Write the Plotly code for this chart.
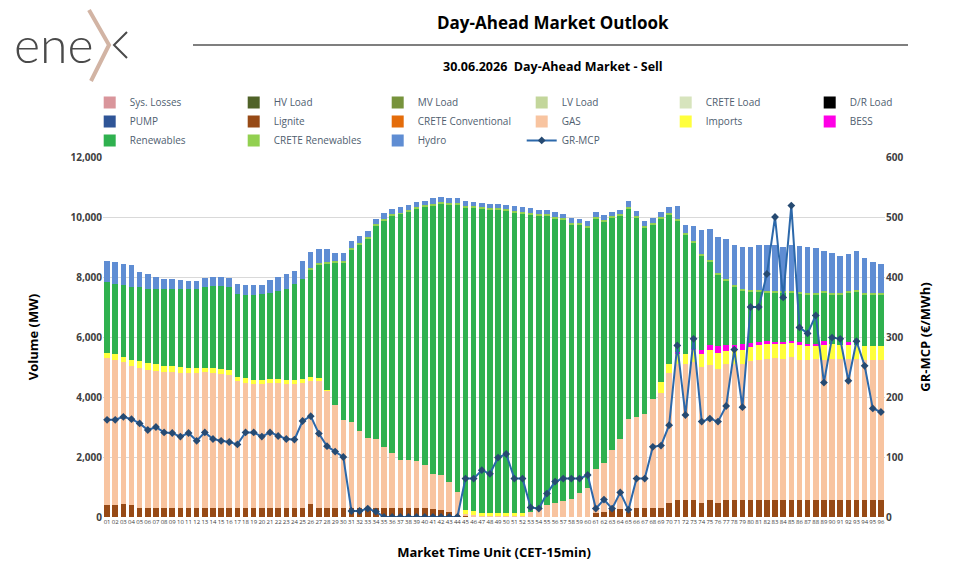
import plotly.graph_objects as go

# ---------------- data ----------------
mtu = [f"{i:02d}" for i in range(1, 97)]

lignite = [400, 400, 430, 400] + [290] * 21 + [420] + [290] * 14 + [270, 230, 170, 60, 66, 33] + [0] * 14 + \
          [144, 177, 288, 266, 177, 288, 288, 288, 288, 454, 565, 565, 565, 476, 565, 476] + [565] * 20

gas = [4910, 4840, 4740, 4650, 4690, 4600, 4570, 4540, 4530, 4510, 4510, 4510, 4540, 4510, 4490, 4460,
       4240, 4190, 4150, 4150, 4180, 4180, 4150, 4150, 4180, 4130, 4240, 3930, 3430, 2960, 2880, 2580,
       2360, 2310, 2050, 1850, 1610, 1610, 1570, 1460, 1170, 1160, 1000, 760, 40, 40, 40, 40,
       40, 40, 40, 40, 177, 266, 399, 454, 543, 587, 787, 953, 1440, 1610, 1940, 2350,
       3100, 3050, 3140, 3660, 3860, 4340, 4520, 4540, 4590, 4520, 4490, 4470, 4520, 4540, 4540, 4630,
       4680, 4710, 4740, 4710, 4770, 4680, 4680, 4710, 4680, 4690, 4690, 4690, 4690, 4680, 4680, 4680]

imports = [170, 180, 180, 170, 220, 240, 240, 220, 200, 190, 180, 160, 140, 160, 160, 150,
           130, 140, 140, 130, 120, 130, 130, 130, 120, 120, 90, 30, 0, 0, 0, 0,
           0, 0, 0, 0, 0, 0, 0, 0, 0, 0, 0, 0, 133, 134, 110, 110,
           110, 110, 110, 110, 0, 0, 0, 0, 0, 0, 0, 0, 0, 0, 0, 0,
           0, 0, 0, 0, 350, 310, 380, 330, 420, 440, 500, 520, 465, 465, 476, 465,
           476, 521, 488, 499, 487, 476, 476, 454, 476, 499, 487, 465, 487, 454, 454, 454]

bess = [0] * 70 + [40, 0, 30, 133, 166, 222, 200, 178, 189, 144, 111, 66, 44, 55, 44, 100,
                   56, 45, 144, 0, 0, 100, 0, 0, 0, 0]

renewables = [2350, 2350, 2380, 2440, 2460, 2470, 2490, 2550, 2580, 2600, 2630, 2650, 2700, 2730, 2750, 2770,
              2790, 2790, 2830, 2860, 2880, 2950, 3040, 3190, 3340, 3570, 3800, 4210, 4770, 5230, 5750, 6210,
              6620, 7110, 7540, 7910, 8200, 8280, 8430, 8590, 8950, 9060, 9240, 9610, 10090, 10100, 10120, 10100,
              10100, 10070, 10010, 9980, 9910, 9780, 9650, 9510, 9360, 9160, 8950, 8700, 8380, 8070, 7760, 7430,
              7010, 6630, 6230, 5790, 5440, 4970, 4370, 3990, 3540, 3140, 2780, 2400, 2130, 1930, 1780, 1710,
              1670, 1630, 1660, 1670, 1630, 1620, 1650, 1650, 1610, 1670, 1680, 1660, 1760, 1720, 1720, 1720]

crete_renewables = [0] * 25 + [50] * 71

hydro = [720, 730, 720, 740, 500, 490, 410, 350, 340, 320, 260, 260, 310, 310, 310, 310,
         310, 320, 320, 300, 430, 440, 480, 440, 620, 540, 450, 440, 260, 270, 240, 240,
         210, 180, 190, 180, 170, 170, 170, 140, 190, 180, 190, 170, 140, 144, 133, 144,
         133, 144, 155, 144, 155, 144, 144, 144, 144, 155, 155, 166, 167, 144, 145, 133,
         200, 167, 166, 166, 188, 222, 440, 260, 520, 810, 1050, 1210, 1340, 1340, 1410, 1450,
         1500, 1530, 1510, 1460, 1510, 1540, 1520, 1500, 1350, 1330, 1240, 1240, 1300, 1150, 1020, 960]

gr_mcp = [162, 162, 167, 163, 156, 145, 150, 141, 140, 134, 140, 127, 141, 130, 127, 125,
          121, 141, 141, 134, 141, 135, 130, 129, 160, 168, 139, 118, 109, 100, 10, 10,
          14, 9, 0, 0, 0, 0, 0, 0, 0, 0, 0, 0, 64, 64, 78, 72,
          99, 105, 64, 64, 16, 14, 39, 59, 64, 64, 64, 70, 14, 29, 14, 41,
          12, 64, 64, 117, 119, 153, 286, 170, 297, 159, 164, 159, 185, 279, 183, 350,
          350, 405, 500, 366, 519, 316, 306, 336, 224, 299, 297, 227, 293, 252, 181, 175]

zeros = [0] * 96

left_ticks = [0, 2000, 4000, 6000, 8000, 10000, 12000]
right_ticks = [0, 100, 200, 300, 400, 500, 600]

# (name, values, colour) in legend / stacking order
bar_series = [
    ("Sys. Losses", zeros, "#D9959B"),
    ("HV Load", zeros, "#4F6228"),
    ("MV Load", zeros, "#77933C"),
    ("LV Load", zeros, "#C3D69B"),
    ("CRETE Load", zeros, "#D7E4BD"),
    ("D/R Load", zeros, "#000000"),
    ("PUMP", zeros, "#2F5597"),
    ("Lignite", lignite, "#974A16"),
    ("CRETE Conventional", zeros, "#E46C0A"),
    ("GAS", gas, "#F8C4A0"),
    ("Imports", imports, "#FFFF3C"),
    ("BESS", bess, "#FF00E6"),
    ("Renewables", renewables, "#2FB14F"),
    ("CRETE Renewables", crete_renewables, "#92D050"),
    ("Hydro", hydro, "#5F8DD3"),
]

FONT = "Open Sans"

fig = go.Figure()
for name, vals, col in bar_series:
    fig.add_trace(go.Bar(x=mtu, y=vals, name=name, marker=dict(color=col, line=dict(width=0)),
                         yaxis="y"))

fig.add_trace(go.Scatter(x=mtu, y=gr_mcp, name="GR-MCP", yaxis="y2", mode="lines+markers",
                         line=dict(color="#2C68AA", width=2),
                         marker=dict(symbol="diamond", size=6, color="#264A72")))

fig.update_layout(
    width=958, height=581,
    margin=dict(l=103, r=73, t=157, b=64, autoexpand=False),
    paper_bgcolor="white", plot_bgcolor="white",
    barmode="stack", bargap=0.32,
    font=dict(family=FONT, color="#404040"),
    showlegend=True,
    legend=dict(orientation="h", x=-0.017, xanchor="left", y=1.192, yanchor="top",
                traceorder="normal", entrywidth=99, entrywidthmode="pixels",
                font=dict(family=FONT, size=10, color="#4F6070"),
                itemwidth=30, tracegroupgap=0, bgcolor="rgba(0,0,0,0)"),
    xaxis=dict(type="category", range=[-0.5, 95.5], tickangle=0,
               tickfont=dict(size=6, color="#404040"),
               showgrid=False, zeroline=False, showline=False, ticks="",
               title=dict(text="<b>Market Time Unit (CET-15min)</b>", standoff=22,
                          font=dict(family=FONT, size=13, color="#000000"))),
    yaxis=dict(range=[0, 12000], tickvals=left_ticks, tickformat=",", showgrid=True,
               gridcolor="#D9D9D9", gridwidth=1, zeroline=False, showline=False, ticks="",
               tickfont=dict(size=10, color="#404040", weight="bold"),
               title=dict(text="<b>Volume (MW)</b>", standoff=28,
                          font=dict(family=FONT, size=13, color="#000000"))),
    yaxis2=dict(range=[0, 600], tickvals=right_ticks, overlaying="y", side="right",
                showgrid=False, zeroline=False, showline=False, ticks="",
                tickfont=dict(size=10, color="#404040", weight="bold"),
                title=dict(text="<b>GR-MCP (€/MWh)</b>", standoff=18,
                           font=dict(family=FONT, size=13, color="#000000"))),
)


def px(xp):
    return (xp - 103) / 782


def py(yp):
    return 1 + (157 - yp) / 360


# header
fig.add_annotation(text="<b>Day-Ahead Market Outlook</b>", xref="paper", yref="paper",
                   x=px(553), y=py(22), showarrow=False,
                   font=dict(family=FONT, size=17, color="#000000"), xanchor="center", yanchor="middle")
fig.add_annotation(text="<b>30.06.2026  Day-Ahead Market - Sell</b>", xref="paper", yref="paper",
                   x=px(553), y=py(66), showarrow=False,
                   font=dict(family=FONT, size=12.5, color="#000000"), xanchor="center", yanchor="middle")
fig.add_shape(type="line", xref="paper", yref="paper",
              x0=px(193), x1=px(908), y0=py(45), y1=py(45),
              line=dict(color="#000000", width=1.2))

# logo "enex"
fig.add_annotation(text="ene", xref="paper", yref="paper", x=px(12), y=py(44), showarrow=False,
                   xanchor="left", yanchor="middle",
                   font=dict(family="Lato", size=50, color="#4A4A4A", weight=300))
fig.add_shape(type="path", xref="paper", yref="paper",
              path=f"M {px(89)},{py(10)} L {px(109)},{py(45)} L {px(91)},{py(81)}",
              line=dict(color="#D2B4A4", width=4))
fig.add_shape(type="path", xref="paper", yref="paper",
              path=f"M {px(127)},{py(32)} L {px(114)},{py(45)} L {px(127)},{py(58)}",
              line=dict(color="#4A4A4A", width=2))

fig.write_html("out.html")
